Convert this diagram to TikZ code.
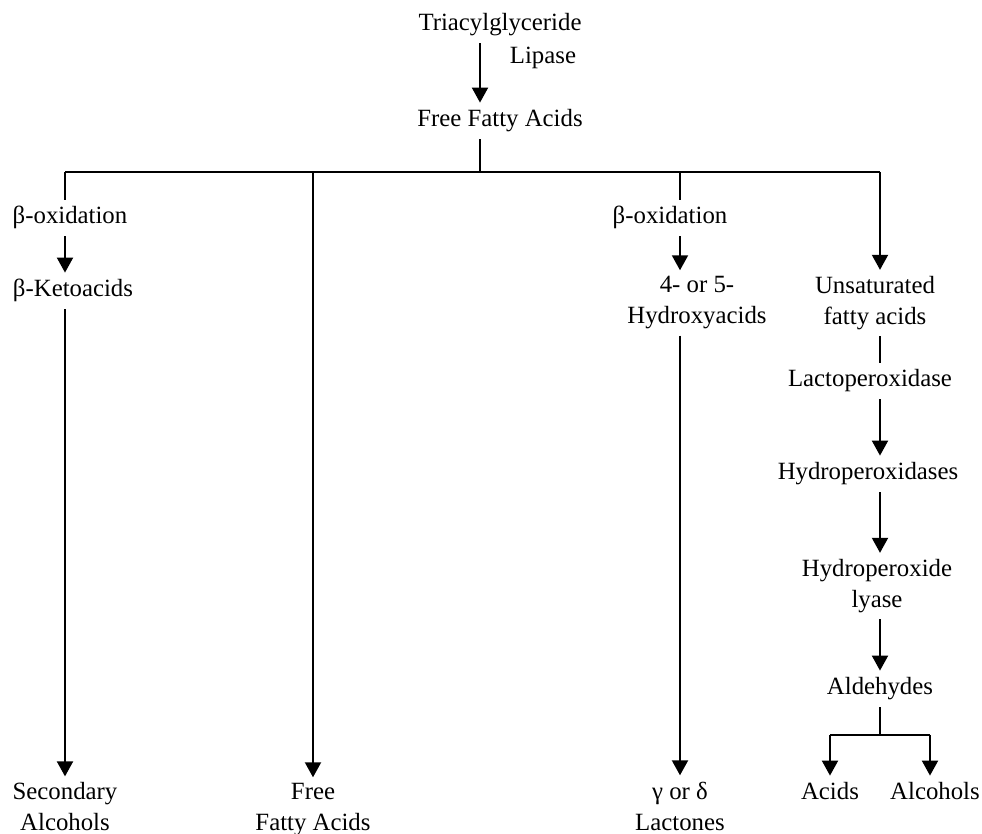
\documentclass[tikz,border=0pt]{standalone}
\usepackage{fontspec}
\setmainfont{Liberation Serif}
\usetikzlibrary{arrows.meta}

\tikzset{
  step label/.style={inner sep=3pt, text height=9pt, text depth=3pt},
  two lines/.style={inner sep=3pt, align=center},
  flow/.style={line width=1pt, -{Triangle[width=8pt,length=7.5pt]}},
  plain/.style={line width=1pt}
}

\begin{document}
\begin{tikzpicture}[x=0.5pt, y=-0.5pt, font=\fontsize{12.4}{15.5}\selectfont]
        \useasboundingbox (0,0) rectangle (982,834);

        \node[step label] (tri) at (500,25) {Triacylglyceride};
        \node[step label] (lip) at (543,58) {Lipase};
        \node[step label] (ffa) at (500,121) {Free Fatty Acids};

        \coordinate (top) at (480,172);
        \coordinate (c1) at (65,172);
        \coordinate (c2) at (313,172);
        \coordinate (c3) at (680,172);
        \coordinate (c4) at (880,172);

        \node[step label] (ox1) at (70,218) {β-oxidation};
        \node[step label] (keto) at (73,291) {β-Ketoacids};
        \node[two lines] (sec) at (65,807) {Secondary\\Alcohols};

        \node[two lines] (ffa2) at (313,810) {Free\\Fatty Acids};

        \node[step label] (ox2) at (670,218) {β-oxidation};
        \node[two lines] (hyd) at (697,303) {4- or 5-\\Hydroxyacids};
        \node[two lines] (lac) at (680,806) {γ or δ\\Lactones};

        \node[two lines] (unsat) at (875,303) {Unsaturated\\fatty acids};
        \node[step label] (lpo) at (870,381) {Lactoperoxidase};
        \node[step label] (hpo) at (868,474) {Hydroperoxidases};
        \node[two lines] (hpl) at (877,586) {Hydroperoxide\\lyase};
        \node[step label] (ald) at (880,689) {Aldehydes};

        \coordinate (fork) at (880,735);
        \coordinate (fa) at (830,735);
        \coordinate (fb) at (930,735);
        \node[step label] (acid) at (830,794) {Acids};
        \node[step label] (alc) at (935,794) {Alcohols};

        % trunk
        \draw[flow] (tri.south -| top) -- (ffa.north -| top);
        \draw[plain] (ffa.south -| top) -- (top);
        \draw[plain] (c1) -- (c4);

        % left branch
        \draw[plain] (c1) -- (ox1.north -| c1);
        \draw[flow] (ox1.south -| c1) -- (keto.north -| c1);
        \draw[flow] (keto.south -| c1) -- (sec.north -| c1);

        \draw[flow] (c2) -- (ffa2.north);

        % lactone branch
        \draw[plain] (c3) -- (ox2.north -| c3);
        \draw[flow] (ox2.south -| c3) -- (hyd.north -| c3);
        \draw[flow] (hyd.south -| c3) -- (lac.north -| c3);

        % unsaturated branch
        \draw[flow] (c4) -- (unsat.north -| c4);
        \draw[plain] (unsat.south -| c4) -- (lpo.north -| c4);
        \draw[flow] (lpo.south -| c4) -- (hpo.north -| c4);
        \draw[flow] (hpo.south -| c4) -- (hpl.north -| c4);
        \draw[flow] (hpl.south -| c4) -- (ald.north -| c4);
        \draw[plain] (ald.south -| c4) -- (fork);
        \draw[plain] (fa) -- (fb);
        \draw[flow] (fa) -- (acid.north -| fa);
        \draw[flow] (fb) -- (alc.north -| fb);
      \end{tikzpicture}
\end{document}
